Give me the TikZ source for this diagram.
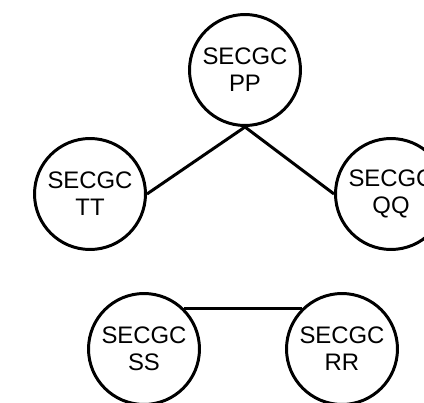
\documentclass[tikz,border=0pt]{standalone}
\usepackage{fontspec}
\setmainfont{Liberation Sans}
\begin{document}
\begin{tikzpicture}[x=0.02cm, y=-0.02cm, line width=1.7pt,
    secgc/.style={draw, circle, minimum size=2.22cm, inner sep=0pt, align=center,
        font=\fontsize{13.6}{15.4}\selectfont}]
    \clip (0,0) rectangle (424,403);
    \fill[white] (0,0) rectangle (424,403);

    \node[secgc] (pp) at (245,70) {SECGC\\PP};
    \node[secgc] (tt) at (90,194) {SECGC\\TT};
    \node[secgc] (qq) at (391,194) {SECGC\\QQ};

    \node[secgc] (ss) at (144,349) {SECGC\\SS};
    \node[secgc] (rr) at (342,349) {SECGC\\RR};

    \draw (pp.south) -- (tt.east);
    \draw (pp.south) -- (qq.west);
    \draw (ss.north east) -- (rr.north west);
\end{tikzpicture}
\end{document}
